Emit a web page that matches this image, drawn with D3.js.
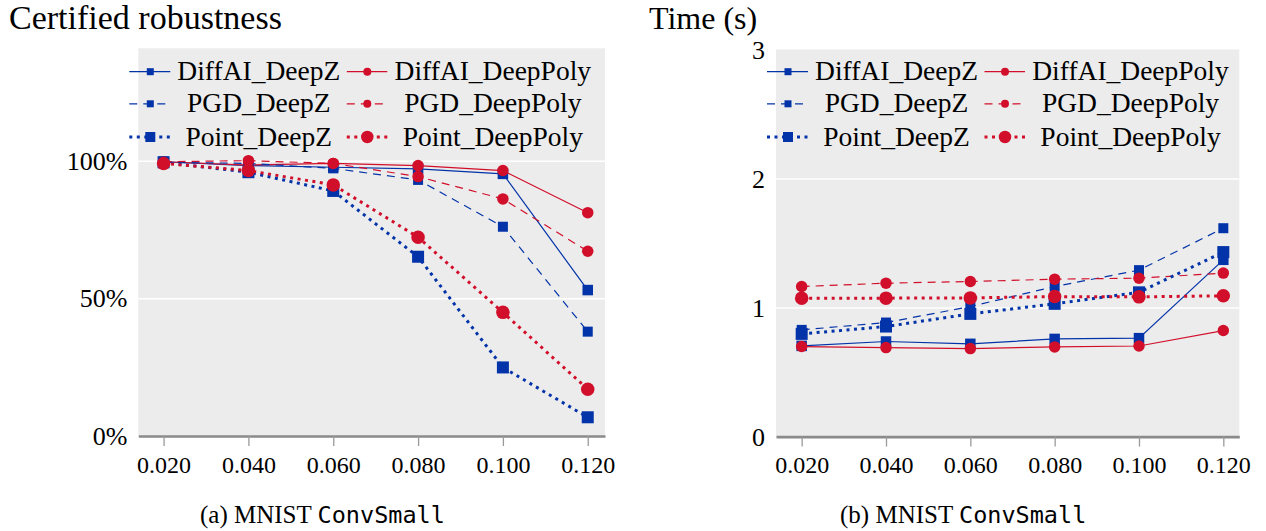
<!DOCTYPE html>
<html>
<head>
<meta charset="utf-8">
<script src="https://cdn.jsdelivr.net/npm/d3@7"></script>
<style>
  html, body { margin: 0; padding: 0; background: #fff; }
  svg { display: block; }
  text { font-family: "Liberation Serif", "DejaVu Serif", serif; fill: #000; }
</style>
</head>
<body>
<svg id="chart" width="1266" height="531"></svg>
<script>
// ---------------- data ----------------
const epsilons = [0.02, 0.04, 0.06, 0.08, 0.10, 0.12];
const seriesNames = ["DiffAI_DeepZ", "DiffAI_DeepPoly", "PGD_DeepZ", "PGD_DeepPoly", "Point_DeepZ", "Point_DeepPoly"];

// certified robustness (fraction)
const robDiffAIDeepZ    = [0.996, 0.982, 0.976, 0.970, 0.952, 0.530];
const robDiffAIDeepPoly = [0.996, 0.984, 0.990, 0.982, 0.964, 0.811];
const robPGDDeepZ       = [0.994, 0.990, 0.972, 0.930, 0.760, 0.379];
const robPGDDeepPoly    = [0.996, 1.000, 0.990, 0.942, 0.861, 0.671];
const robPointDeepZ     = [0.994, 0.958, 0.890, 0.651, 0.249, 0.068];
const robPointDeepPoly  = [0.990, 0.964, 0.912, 0.722, 0.449, 0.170];

// time (s)
const timeDiffAIDeepZ    = [0.703, 0.737, 0.719, 0.757, 0.763, 1.370];
const timeDiffAIDeepPoly = [0.698, 0.690, 0.682, 0.695, 0.702, 0.822];
const timePGDDeepZ       = [0.827, 0.884, 1.008, 1.163, 1.290, 1.615];
const timePGDDeepPoly    = [1.163, 1.189, 1.202, 1.220, 1.228, 1.267];
const timePointDeepZ     = [0.796, 0.853, 0.951, 1.029, 1.118, 1.430];
const timePointDeepPoly  = [1.073, 1.073, 1.075, 1.085, 1.083, 1.091];

const xTickValues = [0.02, 0.04, 0.06, 0.08, 0.10, 0.12];
const robTickValues = [0, 0.5, 1.0];
const timeTickValues = [0, 1, 2, 3];

// ---------------- styles ----------------
const BLUE = "#0333a8", RED = "#d20f2b";
const styles = {
  "DiffAI_DeepZ":    {color: BLUE, dash: null,    width: 1.2, shape: "square", size: 10.5, lsize: 7},
  "DiffAI_DeepPoly": {color: RED,  dash: null,    width: 1.2, shape: "circle", size: 11.5, lsize: 8},
  "PGD_DeepZ":       {color: BLUE, dash: "8,6",   width: 1.2, shape: "square", size: 10,   lsize: 7},
  "PGD_DeepPoly":    {color: RED,  dash: "8,6",   width: 1.2, shape: "circle", size: 11.5, lsize: 8},
  "Point_DeepZ":     {color: BLUE, dash: "3,4.5", width: 3,   shape: "square", size: 12,   lsize: 10},
  "Point_DeepPoly":  {color: RED,  dash: "3,4.5", width: 3,   shape: "circle", size: 13.5, lsize: 12.5}
};

const svg = d3.select("#chart");

function drawMarker(g, shape, cx, cy, size, color) {
  if (shape === "square") {
    g.append("rect").attr("x", cx - size / 2).attr("y", cy - size / 2)
      .attr("width", size).attr("height", size).attr("fill", color);
  } else {
    g.append("circle").attr("cx", cx).attr("cy", cy).attr("r", size / 2).attr("fill", color);
  }
}

function panel(cfg) {
  const g = svg.append("g");
  const x = d3.scaleLinear().domain(cfg.xDomain).range([cfg.left, cfg.right]);
  const y = d3.scaleLinear().domain(cfg.yDomain).range([cfg.bottom, cfg.top]);

  // background
  g.append("rect").attr("x", cfg.left).attr("y", cfg.top)
    .attr("width", cfg.right - cfg.left).attr("height", cfg.bottom - cfg.top)
    .attr("fill", "#ececec");

  // grid lines
  const grid = g.append("g").attr("transform", `translate(${cfg.left},0)`)
    .call(d3.axisLeft(y).tickValues(cfg.yTicks.filter(v => v > cfg.yDomain[0] && v < cfg.yDomain[1]))
      .tickSize(-(cfg.right - cfg.left)).tickFormat(""));
  grid.select(".domain").remove();
  grid.selectAll(".tick line").attr("stroke", "#fff").attr("stroke-width", 1.5);

  // y tick labels
  const ya = g.append("g").attr("transform", `translate(${cfg.left},0)`)
    .call(d3.axisLeft(y).tickValues(cfg.yTicks).tickSize(0).tickPadding(11).tickFormat(cfg.yFormat));
  ya.select(".domain").remove();
  ya.selectAll("text").attr("font-family", "Liberation Serif").attr("font-size", 26)
    .attr("dy", "0.33em").attr("fill", "#000");

  // x axis
  const xa = g.append("g").attr("transform", `translate(0,${cfg.bottom})`)
    .call(d3.axisBottom(x).tickValues(xTickValues).tickSize(10).tickSizeOuter(0).tickPadding(11)
      .tickFormat(d3.format(".3f")));
  xa.select(".domain").attr("stroke", "#8a8a8a").attr("stroke-width", 2.6);
  xa.selectAll(".tick line").attr("stroke", "#9a9a9a").attr("stroke-width", 1.3);
  xa.selectAll("text").attr("font-family", "Liberation Serif").attr("font-size", 24)
    .attr("fill", "#000").attr("dy", "0.66em");

  // series
  const line = d3.line().x((d, i) => x(epsilons[i])).y(d => y(d));
  seriesNames.forEach((name, si) => {
    const st = styles[name];
    const vals = cfg.values[si];
    const sg = g.append("g");
    sg.append("path").attr("d", line(vals)).attr("fill", "none")
      .attr("stroke", st.color).attr("stroke-width", st.width)
      .attr("stroke-dasharray", st.dash);
    vals.forEach((v, i) => drawMarker(sg, st.shape, x(epsilons[i]), y(v), st.size, st.color));
  });

  // legend
  const lg = g.append("g");
  const rowsY = [71.7, 103.8, 137];
  const cols = [
    {lineX0: cfg.left - 9, lineX1: cfg.left + 32, markX: cfg.left + 12, textX: cfg.left + 120.5},
    {lineX0: cfg.left + 208.5, lineX1: cfg.left + 249, markX: cfg.left + 229, textX: cfg.left + 354.5}
  ];
  seriesNames.forEach((name, si) => {
    const st = styles[name];
    const row = Math.floor(si / 2), col = si % 2;
    const c = cols[col], yy = rowsY[row];
    lg.append("line").attr("x1", c.lineX0).attr("x2", c.lineX1).attr("y1", yy).attr("y2", yy)
      .attr("stroke", st.color).attr("stroke-width", st.width).attr("stroke-dasharray", st.dash);
    drawMarker(lg, st.shape, c.markX, yy, st.lsize, st.color);
    lg.append("text").attr("x", c.textX).attr("y", yy + 8.5).attr("text-anchor", "middle")
      .attr("font-size", 27.5).text(name);
  });

  // title
  g.append("text").attr("x", cfg.titleX).attr("y", 29).attr("font-size", cfg.titleSize).text(cfg.title);

  // caption
  const cap = g.append("text").attr("x", cfg.capX).attr("y", 523).attr("font-size", 25);
  cap.append("tspan").text(cfg.capPrefix);
  cap.append("tspan").attr("font-family", "DejaVu Sans Mono").attr("font-size", 23.5).text("ConvSmall");
}

panel({
  left: 138.3, right: 605, top: 48.3, bottom: 436,
  xDomain: [0.01404, 0.12407], yDomain: [0, 1.408],
  yTicks: robTickValues, yFormat: d3.format(".0%"),
  values: [robDiffAIDeepZ, robDiffAIDeepPoly, robPGDDeepZ, robPGDDeepPoly, robPointDeepZ, robPointDeepPoly],
  title: "Certified robustness", titleX: 9, titleSize: 34,
  capPrefix: "(a) MNIST ", capX: 200
});

panel({
  left: 776, right: 1239.3, top: 49.5, bottom: 436.6,
  xDomain: [0.01391, 0.12379], yDomain: [0, 3],
  yTicks: timeTickValues, yFormat: d3.format("d"),
  values: [timeDiffAIDeepZ, timeDiffAIDeepPoly, timePGDDeepZ, timePGDDeepPoly, timePointDeepZ, timePointDeepPoly],
  title: "Time (s)", titleX: 649, titleSize: 32,
  capPrefix: "(b) MNIST ", capX: 840
});
</script>
</body>
</html>
